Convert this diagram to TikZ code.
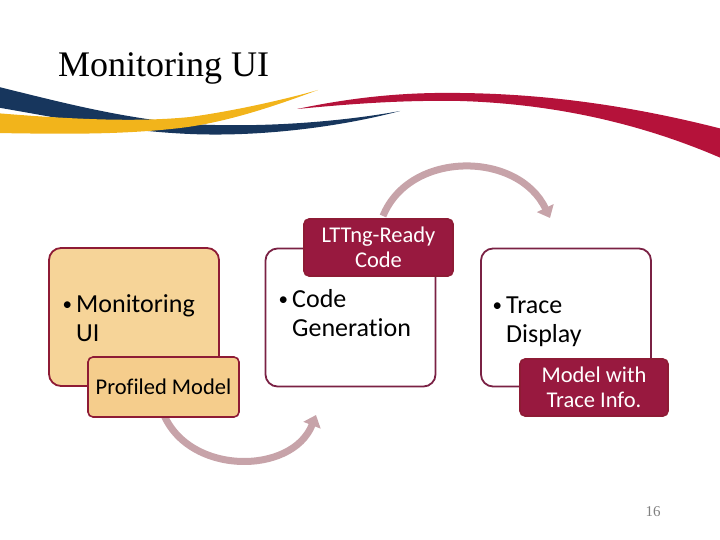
\documentclass[tikz,border=0pt]{standalone}
\usepackage{fontspec}
\setmainfont{Carlito}[Ligatures=NoCommon]
\newfontfamily\titlefont{Liberation Serif}
\usetikzlibrary{arrows.meta}
\definecolor{navyc}{HTML}{17365D}
\definecolor{yellowc}{HTML}{F2B41B}
\definecolor{redc}{HTML}{B5123A}
\definecolor{tanc}{HTML}{F6D498}
\definecolor{tanc2}{HTML}{F5CD8C}
\definecolor{maroonc}{HTML}{8E1B35}
\definecolor{darkboxc}{HTML}{98193F}
\definecolor{wbord}{HTML}{7A2144}
\definecolor{arrowc}{HTML}{C7A3A9}
\newcommand{\mybul}{\makebox[14pt][l]{\hspace{0.5pt}\raisebox{1.5pt}{\fontsize{19}{19}\selectfont\textbullet}}}
\tikzset{
  bigbox/.style={draw=wbord, line width=1.8pt, rounded corners=12pt, minimum width=170pt, minimum height=138pt, inner sep=0pt},
  smallbox/.style={draw=maroonc, line width=1.6pt, rounded corners=5pt, inner sep=0pt, align=center, font=\fontsize{22.5}{25}\selectfont},
  bultext/.style={anchor=base west, inner sep=0pt, font=\fontsize{26}{29}\selectfont},
  cyc/.style={draw=arrowc, line width=7pt, -{Triangle[length=11pt,width=18pt]}}
}
\begin{document}
\begin{tikzpicture}[x=1pt,y=-1pt]
\useasboundingbox (0,0) rectangle (720,540);
\begin{scope}
\clip (0,0) rectangle (720,540);
% swooshes
\fill[navyc] (-5,86) .. controls (60,102) and (120,118) .. (190,124) .. controls (260,128) and (340,122) .. (400,111) .. controls (340,127) and (260,137) .. (190,134) .. controls (120,131) and (60,118) .. (-5,107) -- cycle;
\fill[yellowc] (-5,113) .. controls (80,120) and (140,122) .. (190,117) .. controls (240,110) and (290,98) .. (318,90) .. controls (280,104) and (230,122) .. (180,128) .. controls (120,135) and (60,134) .. (-5,133) -- cycle;
\fill[redc] (297,109) .. controls (350,98) and (400,92) .. (460,93) .. controls (560,94) and (650,110) .. (730,131) -- (730,162) .. controls (650,126) and (560,104) .. (460,101) .. controls (400,100) and (350,104) .. (297,109) -- cycle;
\end{scope}
% title
\node[anchor=base west, inner sep=0pt, font=\titlefont\fontsize{36}{40}\selectfont] (title) at (58,77) {Monitoring UI};
% cycle arrows
\coordinate (a1s) at (383,216);
\coordinate (a1e) at (550,218);
\coordinate (a2s) at (162,410);
\coordinate (a2e) at (316,415);
\draw[cyc] (a1s) .. controls (410,150) and (518,151) .. (a1e);
\draw[cyc] (a2s) .. controls (185,476) and (292,476) .. (a2e);
% big boxes
\node[bigbox, fill=tanc, draw=maroonc] (b1) at (134,317) {};
\node[bigbox, fill=white] (b2) at (350.5,317.5) {};
\node[bigbox, fill=white] (b3) at (566,317.5) {};
% small boxes
\node[smallbox, fill=tanc2, minimum width=151pt, minimum height=60pt] (pm) at (163.5,387) {Profiled Model};
\node[smallbox, fill=darkboxc, text=white, minimum width=149pt, minimum height=57pt] (lt) at (378.5,247.5) {LTTng-Ready\\Code};
\node[smallbox, fill=darkboxc, text=white, minimum width=148pt, minimum height=57pt] (mt) at (594,387.5) {Model with\\Trace Info.};
% bullet texts
\node[bultext] (t1) at (62,312) {\begin{tabular}[t]{@{}l@{}l@{}}\mybul&Monitoring\\&UI\end{tabular}};
\node[bultext] (t2) at (278,307) {\begin{tabular}[t]{@{}l@{}l@{}}\mybul&Code\\&Generation\end{tabular}};
\node[bultext] (t3) at (492,313) {\begin{tabular}[t]{@{}l@{}l@{}}\mybul&Trace\\&Display\end{tabular}};
% page number
\node[anchor=base, inner sep=0pt, text=gray, font=\titlefont\fontsize{15}{18}\selectfont] (pg) at (653,516) {16};
\end{tikzpicture}
\end{document}
